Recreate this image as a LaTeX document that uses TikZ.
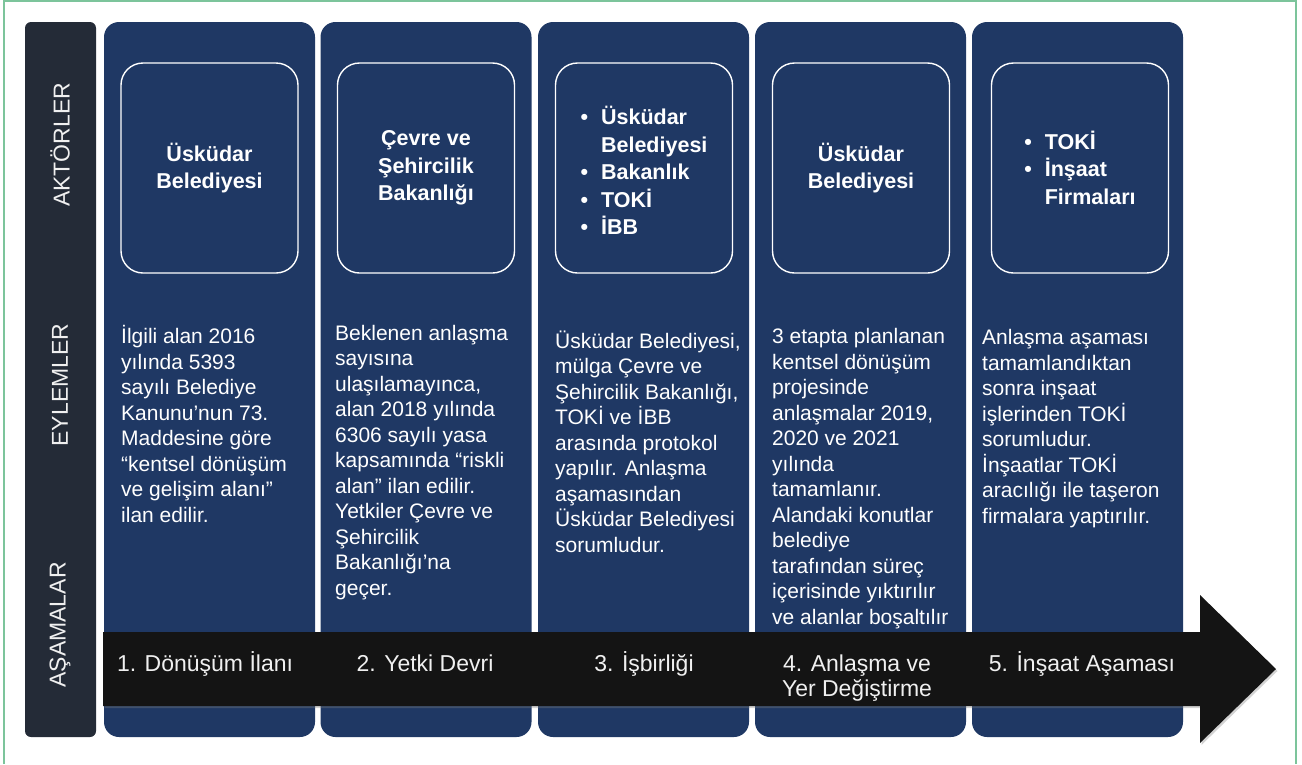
\documentclass[tikz,border=0pt]{standalone}
\usepackage{fontspec}
\setmainfont{Liberation Sans}
\usetikzlibrary{positioning,shadows}
\definecolor{navy}{HTML}{1F3864}
\definecolor{barblue}{HTML}{242B37}
\definecolor{arrowblack}{HTML}{141414}
\definecolor{framegreen}{HTML}{7CC49B}

\begin{document}
\begin{tikzpicture}[x=1pt,y=-1pt]
  \tikzset{
  col/.style={
    rectangle,
    fill=navy,
    rounded corners=15pt,
    minimum width=211pt,
    minimum height=715pt,
    inner sep=0pt
  },
  actor/.style={
    rectangle,
    draw=white,
    line width=1.4pt,
    rounded corners=22pt,
    minimum width=177pt,
    minimum height=210pt
  },
  actortext/.style={
    text=white,
    align=center,
    font=\fontsize{21.5pt}{27.5pt}\selectfont\bfseries
  },
  body/.style={
    text=white,
    align=left,
    inner sep=0pt,
    anchor=base west,
    font=\fontsize{21pt}{25.5pt}\selectfont
  },
  rowlabel/.style={
    text=white!88!gray,
    rotate=90,
    font=\fontsize{23pt}{25pt}\selectfont
  },
  stagetext/.style={
    text=white!94!black,
    align=center,
    inner sep=0pt,
    anchor=base,
    font=\fontsize{23pt}{25pt}\selectfont
  }
}
\useasboundingbox (0,0) rectangle (1302,764);
\draw[framegreen, line width=1.5pt] (4,764) -- (4,1) -- (1296,1) -- (1296,764);

% left bar
\fill[barblue, rounded corners=6pt] (25,22) rectangle (96,737);
\node[rowlabel] at (60,145) (aktorler) {AKTÖRLER};
\node[rowlabel] at (60,385) (eylemler) {EYLEMLER};
\node[rowlabel] at (60,625) (asamalar) {AŞAMALAR};

% columns
\node[col] at (209.5,379.5) (col1) {};
\node[col] at (426,379.5) (col2) {};
\node[col] at (643.5,379.5) (col3) {};
\node[col] at (860.5,379.5) (col4) {};
\node[col] at (1077.5,379.5) (col5) {};

% actors
\node[actor] at (209.5,168) (actor1) {};
\node[actor] at (426,168) (actor2) {};
\node[actor] at (644,168) (actor3) {};
\node[actor] at (861,168) (actor4) {};
\node[actor] at (1080,168) (actor5) {};

\node[actortext] at (actor1) (akt1) {Üsküdar\\Belediyesi};
\node[actortext] at (actor2) (akt2) {Çevre ve\\Şehircilik\\Bakanlığı};
\node[actortext] at (644,174) (akt3) {\begin{tabular}{@{}l@{\hspace{13pt}}l@{}}
  \textbullet & Üsküdar\\
   & Belediyesi\\
  \textbullet & Bakanlık\\
  \textbullet & TOKİ\\
  \textbullet & İBB
\end{tabular}};
\node[actortext] at (actor4) (akt4) {Üsküdar\\Belediyesi};
\node[actortext] at (1080,171) (akt5) {\begin{tabular}{@{}l@{\hspace{13pt}}l@{}}
  \textbullet & TOKİ\\
  \textbullet & İnşaat\\
   & Firmaları
\end{tabular}};

% actions (anchored at the last line)
\node[body] at (121,522) (eyl1) {İlgili alan 2016\\yılında 5393\\sayılı Belediye\\Kanunu’nun 73.\\Maddesine göre\\“kentsel dönüşüm\\ve gelişim alanı”\\ilan edilir.};
\node[body] at (335,595) (eyl2) {Beklenen anlaşma\\sayısına\\ulaşılamayınca,\\alan 2018 yılında\\6306 sayılı yasa\\kapsamında “riskli\\alan” ilan edilir.\\Yetkiler Çevre ve\\Şehircilik\\Bakanlığı’na\\geçer.};
\node[body] at (555,552) (eyl3) {Üsküdar Belediyesi,\\mülga Çevre ve\\Şehircilik Bakanlığı,\\TOKİ ve İBB\\arasında protokol\\yapılır. Anlaşma\\aşamasından\\Üsküdar Belediyesi\\sorumludur.};
\node[body] at (772,624) (eyl4) {3 etapta planlanan\\kentsel dönüşüm\\projesinde\\anlaşmalar 2019,\\2020 ve 2021\\yılında\\tamamlanır.\\Alandaki konutlar\\belediye\\tarafından süreç\\içerisinde yıktırılır\\ve alanlar boşaltılır};
\node[body] at (982,523) (eyl5) {Anlaşma aşaması\\tamamlandıktan\\sonra inşaat\\işlerinden TOKİ\\sorumludur.\\İnşaatlar TOKİ\\aracılığı ile taşeron\\firmalara yaptırılır.};

% stages arrow
\fill[arrowblack, drop shadow={opacity=0.35, shadow xshift=1.5pt, shadow yshift=-2pt}]
  (103,632) -- (1200,632) -- (1200,595) -- (1276,669) -- (1200,743) -- (1200,706) -- (103,706) -- cycle;
\node[stagetext] at (205,671) (asama1) {1. Dönüşüm İlanı};
\node[stagetext] at (425,671) (asama2) {2. Yetki Devri};
\node[stagetext] at (644,671) (asama3) {3. İşbirliği};
\node[stagetext] at (857,696) (asama4) {4. Anlaşma ve\\Yer Değiştirme};
\node[stagetext] at (1082,671) (asama5) {5. İnşaat Aşaması};

\end{tikzpicture}
\end{document}
